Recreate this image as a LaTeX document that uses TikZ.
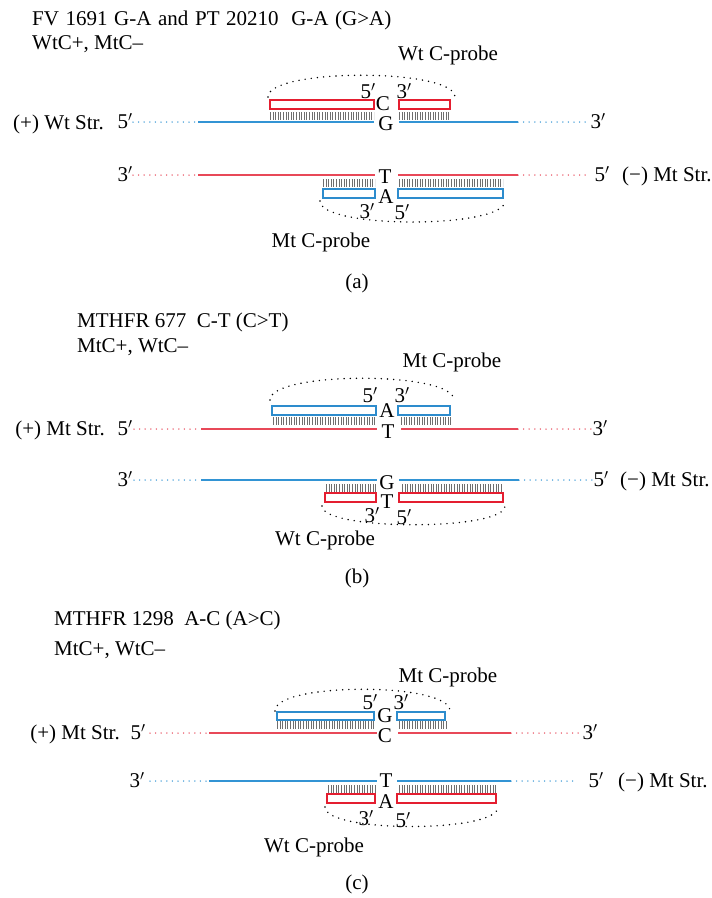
\documentclass[tikz,border=0pt]{standalone}
\usepackage{fontspec}
\setmainfont{Liberation Serif}
\definecolor{sblue}{RGB}{50,148,212}
\definecolor{sred}{RGB}{232,72,88}
\definecolor{bblue}{RGB}{45,140,205}
\definecolor{bred}{RGB}{228,30,48}
\definecolor{hatchgray}{RGB}{110,110,110}
\tikzset{
  txt/.style={inner sep=0pt, font=\fontsize{21}{25}\selectfont},
  strand/.style={line width=1.7pt},
  dotstrand/.style={line width=1.5pt, dash pattern=on 0pt off 5.6pt, line cap=round},
  probebox/.style={line width=1.3pt, fill=white},
  hatchrow/.style={hatchgray, line width=8pt, dash pattern=on 0.9pt off 1.7pt},
  arcdots/.style={line width=1.6pt, dash pattern=on 0pt off 6.2pt, line cap=round, black},
}
\newcommand{\pr}[1]{#1$'$}
\begin{document}
\begin{tikzpicture}[x=1pt,y=-1pt]
\useasboundingbox (0,0) rectangle (712,898);
\fill[white] (0,0) rectangle (712,898);

%%%%%%%%%%%%%%%%%%%% panel (a)
\node[txt,anchor=west] (ta1) at (32,20) {\spaceskip=6.6pt FV 1691 G-A and PT 20210\hspace{6pt} G-A (G>A)};
\node[txt,anchor=west] (ta2) at (32,44) {WtC+, MtC–};
\node[txt] (pa1) at (448,55) {Wt C-probe};
% top strand (+) blue
\coordinate (a1) at (133,122); \coordinate (a2) at (198,122); \coordinate (a3) at (374,122);
\coordinate (a4) at (399,122); \coordinate (a5) at (518,122); \coordinate (a6) at (586,122);
\draw[dotstrand,sblue] (a1) -- (a2);
\draw[strand,sblue] (a2) -- (a3);
\draw[strand,sblue] (a4) -- (a5);
\draw[dotstrand,sblue] (a5) -- (a6);
\draw[hatchrow] (270,116) -- (374,116);
\draw[hatchrow] (399,116) -- (450,116);
\draw[probebox,draw=bred] (270,100) rectangle (374,109);
\draw[probebox,draw=bred] (399,100) rectangle (450,109);
\draw[arcdots] (268,97) .. controls (268,68) and (455,68) .. (455,97);
\node[txt] (ac) at (383,104) {C};
\node[txt] (ag) at (386,124) {G};
\node[txt] (a5p) at (368,91) {\pr{5}};
\node[txt] (a3p) at (404,91) {\pr{3}};
\node[txt,anchor=east] (alp) at (104,124) {(+) Wt Str.};
\node[txt] (al5) at (125,121) {\pr{5}};
\node[txt] (ar3) at (598,121) {\pr{3}};
% bottom strand (-) red
\coordinate (b1) at (133,175); \coordinate (b2) at (198,175); \coordinate (b3) at (375,175);
\coordinate (b4) at (398,175); \coordinate (b5) at (518,175); \coordinate (b6) at (590,175);
\draw[dotstrand,sred] (b1) -- (b2);
\draw[strand,sred] (b2) -- (b3);
\draw[strand,sred] (b4) -- (b5);
\draw[dotstrand,sred] (b5) -- (b6);
\draw[hatchrow] (323,183) -- (375,183);
\draw[hatchrow] (399,183) -- (503,183);
\draw[probebox,draw=bblue] (323,189) rectangle (375,198);
\draw[probebox,draw=bblue] (398,189) rectangle (503,198);
\draw[arcdots] (320,201) .. controls (320,229) and (505,229) .. (505,201);
\node[txt] (at) at (385,177) {T};
\node[txt] (aa) at (386,197) {A};
\node[txt] (ab3) at (367,211) {\pr{3}};
\node[txt] (ab5) at (402,212) {\pr{5}};
\node[txt] (bl3) at (125,174) {\pr{3}};
\node[txt] (br5) at (602,174) {\pr{5}};
\node[txt,anchor=west] (brl) at (622,176) {(−) Mt Str.};
\node[txt] (pa2) at (321,242) {Mt C-probe};
\node[txt] (capa) at (357,283) {(a)};

%%%%%%%%%%%%%%%%%%%% panel (b)
\node[txt,anchor=west] (tb1) at (77,322) {MTHFR 677\ \ C-T (C>T)};
\node[txt,anchor=west] (tb2) at (77,347) {MtC+, WtC–};
\node[txt] (pb1) at (452,362) {Mt C-probe};
% top strand (+) red
\coordinate (c1) at (134,429); \coordinate (c2) at (201,429); \coordinate (c3) at (377,429);
\coordinate (c4) at (401,429); \coordinate (c5) at (518,429); \coordinate (c6) at (592,429);
\draw[dotstrand,sred] (c1) -- (c2);
\draw[strand,sred] (c2) -- (c3);
\draw[strand,sred] (c4) -- (c5);
\draw[dotstrand,sred] (c5) -- (c6);
\draw[hatchrow] (273,421) -- (375,421);
\draw[hatchrow] (401,421) -- (451,421);
\draw[probebox,draw=bblue] (272,406) rectangle (376,415);
\draw[probebox,draw=bblue] (398,406) rectangle (450,415);
\draw[arcdots] (270,400) .. controls (270,371) and (454,371) .. (454,400);
\node[txt] (ba) at (387,411) {A};
\node[txt] (bt) at (388,432) {T};
\node[txt] (b5p) at (370,395) {\pr{5}};
\node[txt] (b3p) at (402,395) {\pr{3}};
\node[txt,anchor=east] (blp) at (105,430) {(+) Mt Str.};
\node[txt] (bl5) at (125,428) {\pr{5}};
\node[txt] (br3) at (600,428) {\pr{3}};
% bottom strand (-) blue
\coordinate (d1) at (134,480); \coordinate (d2) at (201,480); \coordinate (d3) at (377,480);
\coordinate (d4) at (399,480); \coordinate (d5) at (519,480); \coordinate (d6) at (592,480);
\draw[dotstrand,sblue] (d1) -- (d2);
\draw[strand,sblue] (d2) -- (d3);
\draw[strand,sblue] (d4) -- (d5);
\draw[dotstrand,sblue] (d5) -- (d6);
\draw[hatchrow] (326,488) -- (376,488);
\draw[hatchrow] (402,488) -- (503,488);
\draw[probebox,draw=bred] (325,493) rectangle (376,502);
\draw[probebox,draw=bred] (399,493) rectangle (503,502);
\draw[arcdots] (322,506) .. controls (322,531) and (505,531) .. (505,506);
\node[txt] (bg) at (387,483) {G};
\node[txt] (bt2) at (387,502) {T};
\node[txt] (bb3) at (372,515) {\pr{3}};
\node[txt] (bb5) at (404,517) {\pr{5}};
\node[txt] (dl3) at (125,479) {\pr{3}};
\node[txt] (dr5) at (601,479) {\pr{5}};
\node[txt,anchor=west] (drl) at (620,481) {(−) Mt Str.};
\node[txt] (pb2) at (325,540) {Wt C-probe};
\node[txt] (capb) at (357,578) {(b)};

%%%%%%%%%%%%%%%%%%%% panel (c)
\node[txt,anchor=west] (tc1) at (54,620) {MTHFR 1298\ \ A-C (A>C)};
\node[txt,anchor=west] (tc2) at (54,650) {MtC+, WtC–};
\node[txt] (pc1) at (448,677) {Mt C-probe};
% top strand (+) red
\coordinate (e1) at (150,733); \coordinate (e2) at (209,733); \coordinate (e3) at (377,733);
\coordinate (e4) at (398,733); \coordinate (e5) at (511,733); \coordinate (e6) at (580,733);
\draw[dotstrand,sred] (e1) -- (e2);
\draw[strand,sred] (e2) -- (e3);
\draw[strand,sred] (e4) -- (e5);
\draw[dotstrand,sred] (e5) -- (e6);
\draw[hatchrow] (277,725) -- (374,725);
\draw[hatchrow] (399,725) -- (447,725);
\draw[probebox,draw=bblue] (277,712) rectangle (374,720);
\draw[probebox,draw=bblue] (397,712) rectangle (445,720);
\draw[arcdots] (275,711) .. controls (275,682) and (450,682) .. (450,711);
\node[txt] (cg) at (385,716) {G};
\node[txt] (cc) at (385,736) {C};
\node[txt] (c5p) at (370,702) {\pr{5}};
\node[txt] (c3p) at (401,702) {\pr{3}};
\node[txt,anchor=east] (clp) at (120,734) {(+) Mt Str.};
\node[txt] (el5) at (138,732) {\pr{5}};
\node[txt] (er3) at (590,732) {\pr{3}};
% bottom strand (-) blue
\coordinate (f1) at (150,781); \coordinate (f2) at (209,781); \coordinate (f3) at (377,781);
\coordinate (f4) at (397,781); \coordinate (f5) at (511,781); \coordinate (f6) at (578,781);
\draw[dotstrand,sblue] (f1) -- (f2);
\draw[strand,sblue] (f2) -- (f3);
\draw[strand,sblue] (f4) -- (f5);
\draw[dotstrand,sblue] (f5) -- (f6);
\draw[hatchrow] (328,789) -- (375,789);
\draw[hatchrow] (399,789) -- (497,789);
\draw[probebox,draw=bred] (327,794) rectangle (375,803);
\draw[probebox,draw=bred] (397,794) rectangle (496,803);
\draw[arcdots] (325,807) .. controls (325,833) and (498,833) .. (498,807);
\node[txt] (ct) at (386,781) {T};
\node[txt] (ca) at (386,802) {A};
\node[txt] (cb3) at (366,818) {\pr{3}};
\node[txt] (cb5) at (403,820) {\pr{5}};
\node[txt] (fl3) at (137,780) {\pr{3}};
\node[txt] (fr5) at (596,780) {\pr{5}};
\node[txt,anchor=west] (frl) at (618,782) {(−) Mt Str.};
\node[txt] (pc2) at (314,847) {Wt C-probe};
\node[txt] (capc) at (357,884) {(c)};
\end{tikzpicture}
\end{document}
